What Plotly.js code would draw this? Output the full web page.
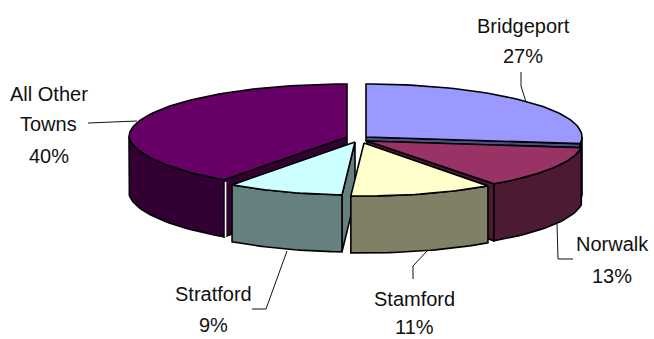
<!DOCTYPE html>
<html>
<head>
<meta charset="utf-8">
<script src="https://cdn.plot.ly/plotly-3.0.1.min.js"></script>
<style>html,body{margin:0;padding:0;background:#fff}#pie{width:654px;height:339px}</style>
</head>
<body>
<div id="pie"></div>
<script>
// Share of the total by town, clockwise from twelve o'clock.
const towns = ["Bridgeport", "Norwalk", "Stamford", "Stratford", "All Other Towns"];
const shares = [27, 13, 11, 9, 40];

// Town name broken across label lines.
const labelLines = [["Bridgeport"], ["Norwalk"], ["Stamford"], ["Stratford"], ["All Other", "Towns"]];

// Face colours.
const topColors = ["#9999FF", "#993366", "#FFFFCC", "#CCFFFF", "#660066"];
const sideColors = ["#4D4D80", "#4D1A33", "#808066", "#668080", "#330033"];

// Exploded wedge apex in page pixels, half-width of the disc and narrowing toward the viewer.
const apexX = [366, 367, 364, 355, 347];
const apexY = [137, 141, 143, 142, 137];
const radiusX = [216, 216, 217, 218, 218];
const narrowing = [0, 0, 0.035, 0.05, 0.05];
const radiusY = 53;
const thickness = 57;

// Depth of the cut faces at each wedge's opening and closing edges; zero means hidden.
const openingCutDrop = [0, 0, 0, 57, 57];
const closingCutDrop = [4, 57, 0, 0, 0];

// Label text anchors: town name lines, then the percentage.
const labelX = [523, 612, 414, 213, 48.5];
const labelY = [26, 244, 299, 294, 94];
const percentY = [56, 276, 327, 325, 156];
const labelStep = 30;

// Leader lines from label to rim.
const leaderX = [[521, 521, 526], [557, 558, 573], [427, 413, 413], [287, 266, 252], [88, 137]];
const leaderY = [[72, 86, 102], [224, 259, 259], [251, 266, 279], [251, 309, 309], [123, 121]];

const deg = Math.PI / 180;

function rimPoint(i, angle, drop) {
  const s = Math.sin(angle * deg), c = Math.cos(angle * deg);
  const k = 1 - narrowing[i] * Math.max(0, -c);
  return [apexX[i] + radiusX[i] * k * s, apexY[i] - radiusY * c + drop];
}

function arc(i, from, to, drop) {
  const pts = [];
  const n = Math.max(2, Math.ceil(Math.abs(to - from) / 1.5));
  for (let j = 0; j <= n; j++) pts.push(rimPoint(i, from + (to - from) * j / n, drop));
  return pts;
}

function face(pts, color) {
  const closed = pts.concat([pts[0]]);
  return {
    type: "scatter", mode: "lines", fill: "toself", fillcolor: color,
    x: closed.map(p => p[0]), y: closed.map(p => p[1]),
    line: { color: "#000", width: 1.6, shape: "linear" },
    hoverinfo: "skip"
  };
}

// Cumulative angles for each wedge.
const total = shares.reduce((a, b) => a + b, 0);
let running = 0;
const startAngle = [], endAngle = [];
shares.forEach(v => {
  startAngle.push(running / total * 360);
  running += v;
  endAngle.push(running / total * 360);
});

function wedgeFaces(i) {
  const out = [];
  const a0 = startAngle[i], a1 = endAngle[i];
  const apex = [apexX[i], apexY[i]];
  const cut = (angle, drop) => {
    const r = rimPoint(i, angle, 0), rd = rimPoint(i, angle, drop);
    return face([apex, r, rd, [apex[0], apex[1] + drop]], sideColors[i]);
  };
  if (openingCutDrop[i] > 0) out.push(cut(a0, openingCutDrop[i]));
  if (closingCutDrop[i] > 0) out.push(cut(a1, closingCutDrop[i]));
  // Outer wall: only the part of the rim that faces the viewer.
  const lo = Math.max(a0, 90), hi = Math.min(a1, 270);
  if (hi > lo) {
    out.push(face(arc(i, lo, hi, 0).concat(arc(i, hi, lo, thickness)), sideColors[i]));
  }
  out.push(face([apex].concat(arc(i, a0, a1, 0)), topColors[i]));
  return out;
}

// Painted back to front.
const paintOrder = [4, 0, 1, 3, 2];
const traces = [];
paintOrder.forEach(i => {
  wedgeFaces(i).forEach(t => traces.push(t));
  // Bright seam where the largest wedge's wall meets its cut face.
  if (shares[i] === Math.max(...shares)) {
    const a = rimPoint(i, startAngle[i], 2), b = rimPoint(i, startAngle[i], thickness);
    traces.push({
      type: "scatter", mode: "lines", x: [a[0] + 1.5, b[0] + 1.5], y: [a[1], b[1]],
      line: { color: "#fff", width: 1.6 }, hoverinfo: "skip"
    });
  }
});

towns.forEach((name, i) => {
  traces.push({
    type: "scatter", mode: "lines", x: leaderX[i], y: leaderY[i],
    line: { color: "#111", width: 1 }, hoverinfo: "skip", name: name
  });
});

const annotations = [];
function addLabel(text, x, y) {
  annotations.push({
    xref: "x", yref: "y", x: x, y: y,
    text: text, showarrow: false, xanchor: "center", yanchor: "middle",
    font: { family: "Liberation Sans, Arial, sans-serif", size: 20, color: "#111" }
  });
}
towns.forEach((name, i) => {
  labelLines[i].forEach((text, j) => addLabel(text, labelX[i], labelY[i] + j * labelStep));
  addLabel(shares[i] + "%", labelX[i], percentY[i]);
});

const layout = {
  width: 654, height: 339,
  margin: { l: 0, r: 0, t: 0, b: 0 },
  paper_bgcolor: "#fff", plot_bgcolor: "#fff",
  showlegend: false,
  xaxis: { range: [0, 654], visible: false, fixedrange: true },
  yaxis: { range: [339, 0], visible: false, fixedrange: true },
  annotations: annotations
};

Plotly.newPlot("pie", traces, layout, { displayModeBar: false, staticPlot: true });
</script>
</body>
</html>
